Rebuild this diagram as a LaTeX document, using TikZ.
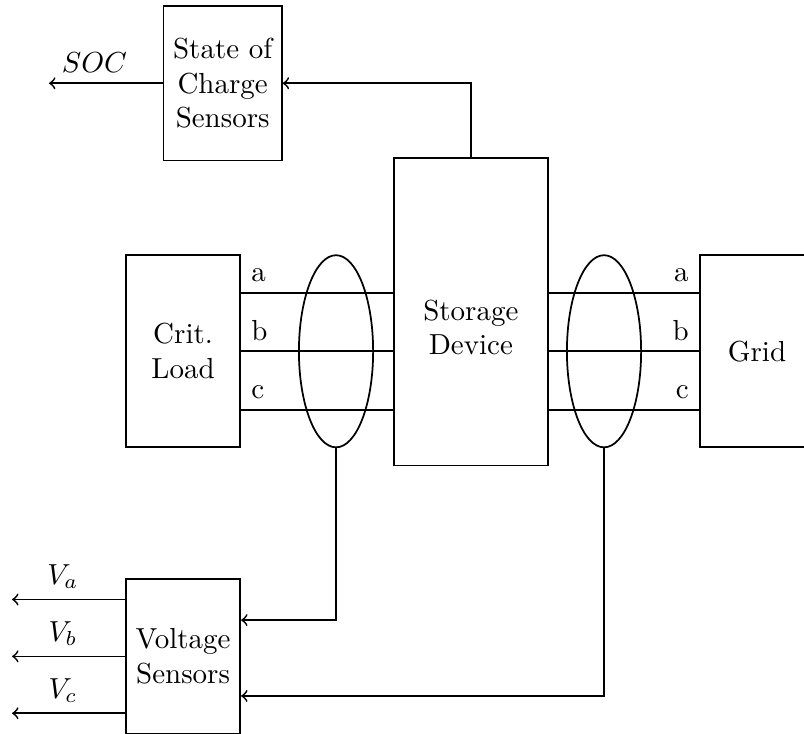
\documentclass[tikz,border=0pt]{standalone}
\usepackage{amsmath, amssymb}
\usepackage{tikz}
\usetikzlibrary{calc, shapes.geometric, positioning}

\tikzset{
    khoi/.style={draw, align=center, minimum width=1.38cm},
    vong/.style={draw, ellipse, minimum width=0.9cm, minimum height=2.33cm}
}

\begin{document}
\begin{tikzpicture}[>=to, semithick]

    % =================================================================
    % 1. KHUNG HÌNH
    % =================================================================
    \useasboundingbox (0,0) rectangle (9.75,-8.90);

    % =================================================================
    % 2. CÁC KHỐI CHÍNH
    % =================================================================
    \node[khoi, minimum height=1.87cm] (soc) at (2.70,-1.01) {State of\\Charge\\Sensors};
    \node[khoi, minimum width=1.87cm, minimum height=3.73cm] (storage) at (5.71,-3.78) {};
    \node[align=center] (storagetxt) at (5.71,-3.97) {Storage\\Device};
    \node[khoi, minimum height=2.33cm] (load) at (2.22,-4.26) {Crit.\\Load};
    \node[khoi, minimum height=2.33cm] (grid) at (9.18,-4.26) {Grid};
    \node[khoi, minimum height=1.87cm] (vsens) at (2.22,-7.96) {Voltage\\Sensors};

    % =================================================================
    % 3. BA PHA a, b, c
    % =================================================================
    \foreach \ph/\dy in {a/0.71, b/0, c/-0.71} {
        \coordinate (l\ph) at ($(load.east)+(0,\dy)$);
        \coordinate (g\ph) at ($(grid.west)+(0,\dy)$);
        \draw (l\ph) -- (l\ph -| storage.west);
        \draw (storage.east |- g\ph) -- (g\ph);
        \node[above right] at (l\ph) {\ph};
        \node[above left] at (g\ph) {\ph};
    }

    % Vòng đo điện áp
    \node[vong] (ell1) at (4.075,-4.26) {};
    \node[vong] (ell2) at (7.325,-4.26) {};

    % =================================================================
    % 4. CÁC MŨI TÊN TÍN HIỆU
    % =================================================================
    \coordinate (socout) at (0.594,-1.01);
    \draw[->] (storage.north) |- (soc.east);
    \draw[->] (soc.west) -- node[above, pos=0.6] {$SOC$} (socout);

    \draw[->] (ell1.south) |- ($(vsens.east)+(0,0.44)$);
    \draw[->] (ell2.south) |- ($(vsens.east)+(0,-0.48)$);

    \foreach \v/\dy in {a/0.69, b/0, c/-0.69} {
        \draw[->] ($(vsens.west)+(0,\dy)$) -- ++(-1.37,0)
            node[above, pos=0.55] {$V_\v$};
    }

\end{tikzpicture}
\end{document}
